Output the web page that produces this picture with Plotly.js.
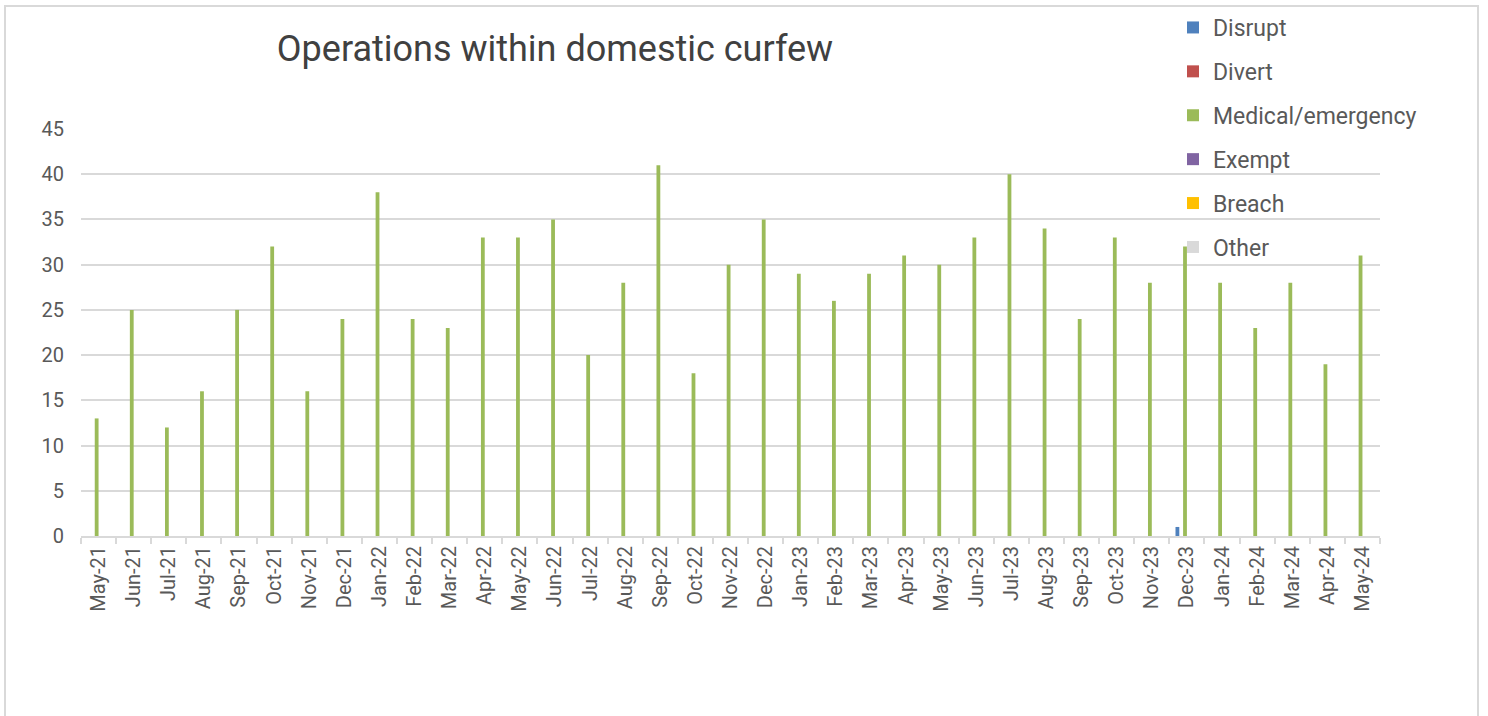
<!DOCTYPE html>
<html>
<head>
<meta charset="utf-8">
<script src="https://cdn.plot.ly/plotly-3.0.1.min.js"></script>
<style>
  html, body { margin: 0; padding: 0; width: 1488px; height: 716px; overflow: hidden; background: #fff; }
  #chart { position: absolute; left: 0; top: 0; width: 1488px; height: 716px; }
  #frame { position: absolute; left: 4px; top: 5px; width: 1475px; height: 800px; border: 2px solid #d9d9d9; box-sizing: border-box; pointer-events: none; }
</style>
</head>
<body>
<div id="chart"></div>
<div id="frame"></div>
<script>
const months = ["May-21","Jun-21","Jul-21","Aug-21","Sep-21","Oct-21","Nov-21","Dec-21",
  "Jan-22","Feb-22","Mar-22","Apr-22","May-22","Jun-22","Jul-22","Aug-22","Sep-22","Oct-22","Nov-22","Dec-22",
  "Jan-23","Feb-23","Mar-23","Apr-23","May-23","Jun-23","Jul-23","Aug-23","Sep-23","Oct-23","Nov-23","Dec-23",
  "Jan-24","Feb-24","Mar-24","Apr-24","May-24"];

const disrupt = [0,0,0,0,0,0,0,0, 0,0,0,0,0,0,0,0,0,0,0,0, 0,0,0,0,0,0,0,0,0,0,0,1, 0,0,0,0,0];
const divert  = [0,0,0,0,0,0,0,0, 0,0,0,0,0,0,0,0,0,0,0,0, 0,0,0,0,0,0,0,0,0,0,0,0, 0,0,0,0,0];
const medical = [13,25,12,16,25,32,16,24, 38,24,23,33,33,35,20,28,41,18,30,35, 29,26,29,31,30,33,40,34,24,33,28,32, 28,23,28,19,31];
const exempt  = [0,0,0,0,0,0,0,0, 0,0,0,0,0,0,0,0,0,0,0,0, 0,0,0,0,0,0,0,0,0,0,0,0, 0,0,0,0,0];
const breach  = [0,0,0,0,0,0,0,0, 0,0,0,0,0,0,0,0,0,0,0,0, 0,0,0,0,0,0,0,0,0,0,0,0, 0,0,0,0,0];
const other   = [0,0,0,0,0,0,0,0, 0,0,0,0,0,0,0,0,0,0,0,0, 0,0,0,0,0,0,0,0,0,0,0,0, 0,0,0,0,0];

const seriesNames = ["Disrupt","Divert","Medical/emergency","Exempt","Breach","Other"];
const seriesData = [disrupt, divert, medical, exempt, breach, other];
const seriesColors = ["#4f81bd","#c0504d","#9bbb59","#8064a2","#ffc000","#d9d9d9"];

const traces = seriesNames.map((n, i) => ({
  type: "bar",
  name: n,
  x: months,
  y: seriesData[i],
  marker: { color: seriesColors[i] },
  legendgroup: "g" + i,
  hoverinfo: "x+y+name"
}));

const W = 1488, H = 716;
const mL = 81, mR = 108, mT = 129, mB = 180;
const plotW = W - mL - mR, plotH = H - mT - mB;

const layout = {
  width: W, height: H,
  margin: { l: mL, r: mR, t: mT, b: mB, pad: 0, autoexpand: false },
  paper_bgcolor: "#ffffff",
  plot_bgcolor: "#ffffff",
  font: { family: "Roboto, 'Open Sans', sans-serif", color: "#595959", size: 20 },
  title: {
    text: "Operations within domestic curfew",
    font: { family: "Roboto, sans-serif", size: 36, color: "#404040" },
    xref: "paper", x: (555 - mL) / plotW, xanchor: "center",
    yref: "container", y: 1 - 48 / H, yanchor: "middle"
  },
  barmode: "group",
  bargap: 0.35,
  bargroupgap: 0,
  showlegend: true,
  legend: {
    x: (1173 - mL) / plotW, xanchor: "left",
    y: 1 + (mT - 6) / plotH, yanchor: "top",
    font: { size: 23, color: "#595959" },
    bgcolor: "rgba(0,0,0,0)",
    traceorder: "grouped",
    tracegroupgap: 11
  },
  xaxis: {
    type: "category",
    tickson: "boundaries",
    ticks: "outside", ticklen: 6, tickcolor: "#d9d9d9", tickwidth: 2,
    showline: true, linecolor: "#d9d9d9", linewidth: 2,
    showgrid: false,
    tickangle: -90,
    tickfont: { size: 20, color: "#595959" },
    automargin: false
  },
  yaxis: {
    range: [0, 45],
    tick0: 0, dtick: 5,
    showgrid: true, gridcolor: "#d9d9d9", gridwidth: 2,
    zeroline: false,
    showline: false,
    ticks: "",
    ticklabelstandoff: 16,
    tickfont: { size: 20, color: "#595959" },
    automargin: false
  }
};

Plotly.newPlot("chart", traces, layout, { displayModeBar: false, staticPlot: true });
</script>
</body>
</html>
